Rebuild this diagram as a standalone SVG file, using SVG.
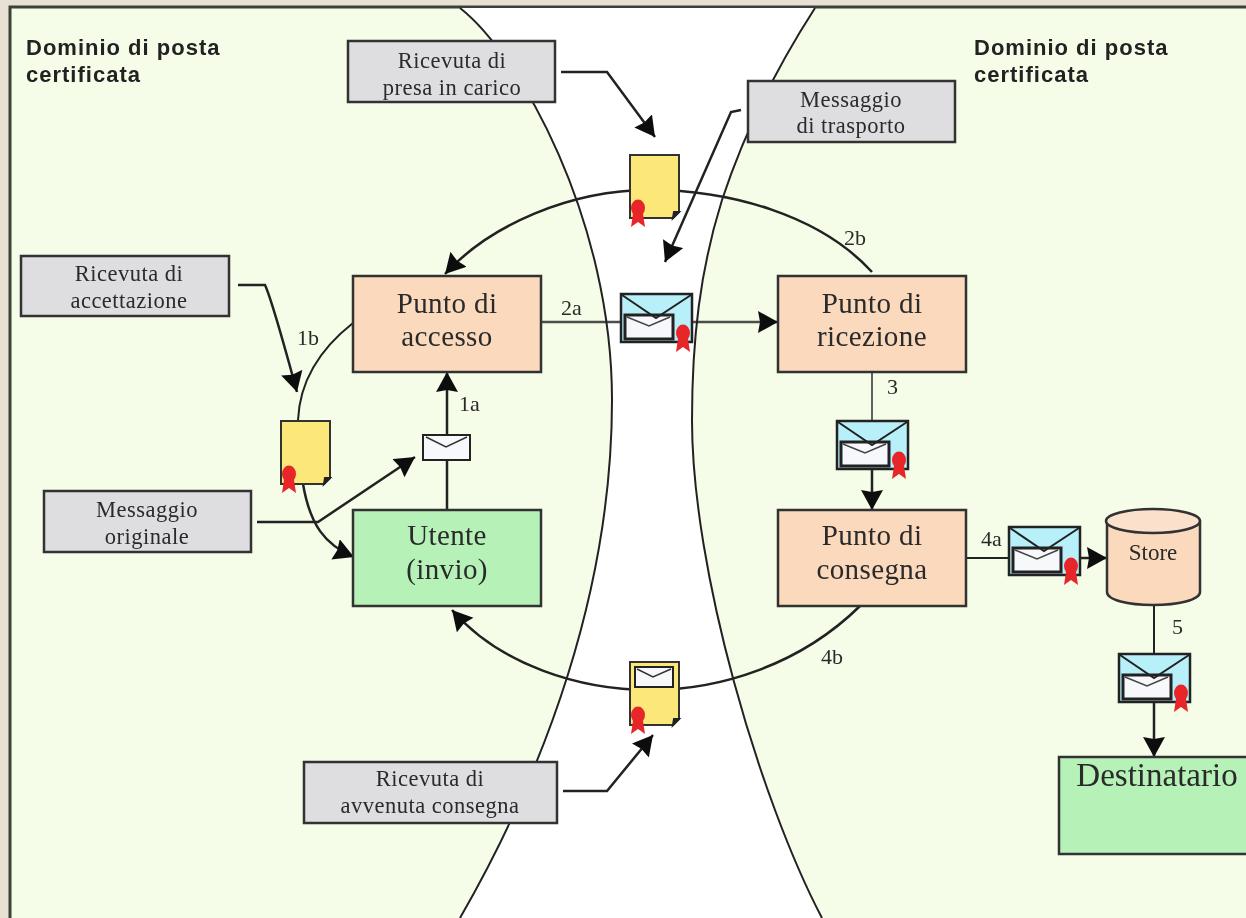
<svg xmlns="http://www.w3.org/2000/svg" xmlns:xlink="http://www.w3.org/1999/xlink" width="1246" height="918" viewBox="0 0 1246 918">
<style>
.serif{font-family:"Liberation Serif","Times New Roman",serif;fill:#2a2a2a}
.sans{font-family:"Liberation Sans",Arial,sans-serif;font-weight:bold;font-size:22px;letter-spacing:1px;fill:#222}
.big{font-size:29px;letter-spacing:.4px;text-anchor:middle}
.lab{font-size:22.500px;letter-spacing:.5px;text-anchor:middle}
.num{font-size:22px}
.gray{fill:#dedde0;stroke:#333;stroke-width:2.500}
.orange{fill:#fad9bd;stroke:#333;stroke-width:2.500}
.green{fill:#b6f2b8;stroke:#333;stroke-width:2.500}
.line{fill:none;stroke:#222;stroke-width:2}
.arr{fill:none;stroke:#222;stroke-width:2.500;marker-end:url(#ah)}
.edge{fill:none;stroke:#222;stroke-width:2}
</style>
<defs>
<filter id="soft" x="0" y="0" width="100%" height="100%"><feGaussianBlur stdDeviation="0.5"/></filter>
<marker id="ah" markerUnits="userSpaceOnUse" markerWidth="24" markerHeight="24" refX="20" refY="11" orient="auto"><path d="M0 0L20 11L0 22L2 11Z" fill="#111"/></marker>
<g id="seal"><path d="M-5 6L-7 19L0 14L7 19L5 6Z" fill="#e8282a"/><ellipse cx="0" cy="0" rx="7" ry="8.500" fill="#e8282a"/></g>
<g id="env"><rect x="1" y="1" width="71" height="48" fill="#b8f0fa" stroke="#222" stroke-width="2.500"/><rect x="5" y="22" width="48" height="24" fill="#f6f8fb" stroke="#222" stroke-width="3"/><path d="M7 24L29 33L50 24" fill="none" stroke="#444" stroke-width="1.500"/><path d="M2 2L36 25L71 2" fill="none" stroke="#222" stroke-width="2"/><use xlink:href="#seal" href="#seal" x="63" y="40"/></g>
<g id="doc"><path d="M1 1H50V58L44 64H1Z" fill="#fbe878" stroke="#333" stroke-width="2"/><path d="M44 64L45 58H50Z" fill="#222" stroke="#222" stroke-width="2"/><use xlink:href="#seal" href="#seal" x="9" y="54"/></g>
</defs>
<g filter="url(#soft)">
<rect width="1246" height="918" fill="#e8e0d2"/>
<rect x="10" y="7" width="1240" height="920" fill="#f5fde8" stroke="#3a4038" stroke-width="3"/>
<path d="M460 8C520 55 612 220 612 400C612 590 545 770 460 918H822C760 800 692 570 692 420C692 340 700 270 722 200C745 130 775 70 815 8Z" fill="#fff"/>
<g id="connectors">
<path class="line" d="M460 8C520 55 612 220 612 400C612 590 545 770 460 918"/>
<path class="line" d="M815 8C775 70 745 130 722 200C700 270 692 340 692 420C692 570 760 800 822 918"/>
<path class="arr" d="M561 72H607L655 137"/>
<path class="arr" d="M741 110L731 112L665 262"/>
<path class="arr" d="M238 285H265Q272 300 297 392"/>
<path class="arr" d="M257 522H318L415 457"/>
<path class="arr" d="M563 791H607L653 735"/>
<path class="arr" d="M872 272C820 215 730 190 650 190C570 190 490 225 445 274"/>
<path class="arr" d="M860 606C800 665 720 690 650 690C580 690 500 665 452 610"/>
<path class="edge" d="M353 323C325 345 300 375 298 420"/>
<path class="arr" d="M303 484C310 525 325 545 354 557"/>
<path class="arr" d="M447 510V372"/>
<path class="arr" stroke-opacity="0.800" d="M541 322H778"/>
<path class="edge" d="M872 372V420" stroke-opacity="0.700"/>
<path class="arr" d="M872 469V510"/>
<path class="edge" d="M966 558H1008"/>
<path class="arr" d="M1080 558H1107"/>
<path class="edge" d="M1154 605V653"/>
<path class="arr" d="M1154 701V757"/>
</g>
<g id="domain-left"><text class="sans" x="26" y="55">Dominio di posta</text><text class="sans" x="26" y="82">certificata</text></g>
<g id="domain-right"><text class="sans" x="974" y="55">Dominio di posta</text><text class="sans" x="974" y="82">certificata</text></g>
<g id="ricevuta-presa"><rect class="gray" x="348" y="41" width="207" height="61"/><text class="serif lab" x="452" y="68">Ricevuta di</text><text class="serif lab" x="452" y="95">presa in carico</text></g>
<g id="messaggio-trasporto"><rect class="gray" x="748" y="81" width="207" height="61"/><text class="serif lab" x="851" y="107">Messaggio</text><text class="serif lab" x="851" y="133">di trasporto</text></g>
<g id="ricevuta-accettazione"><rect class="gray" x="21" y="256" width="208" height="60"/><text class="serif lab" x="129" y="281">Ricevuta di</text><text class="serif lab" x="129" y="308">accettazione</text></g>
<g id="messaggio-originale"><rect class="gray" x="44" y="491" width="207" height="61"/><text class="serif lab" x="147" y="517">Messaggio</text><text class="serif lab" x="147" y="544">originale</text></g>
<g id="ricevuta-consegna"><rect class="gray" x="304" y="762" width="253" height="61"/><text class="serif lab" x="430" y="786">Ricevuta di</text><text class="serif lab" x="430" y="813">avvenuta consegna</text></g>
<g id="punto-accesso"><rect class="orange" x="353" y="276" width="188" height="96"/><text class="serif big" x="447" y="313">Punto di</text><text class="serif big" x="447" y="346">accesso</text></g>
<g id="punto-ricezione"><rect class="orange" x="778" y="276" width="188" height="96"/><text class="serif big" x="872" y="313">Punto di</text><text class="serif big" x="872" y="346">ricezione</text></g>
<g id="punto-consegna"><rect class="orange" x="778" y="510" width="188" height="96"/><text class="serif big" x="872" y="545">Punto di</text><text class="serif big" x="872" y="579">consegna</text></g>
<g id="utente"><rect class="green" x="353" y="510" width="188" height="96"/><text class="serif big" x="447" y="545">Utente</text><text class="serif big" x="447" y="579">(invio)</text></g>
<g id="destinatario"><rect class="green" x="1059" y="757" width="190" height="97"/><text class="serif" x="1157" y="786" font-size="33" text-anchor="middle">Destinatario</text></g>
<g id="store"><path d="M1107 522V592C1107 600 1128 605 1153 605C1178 605 1200 600 1200 592V522Z" fill="#fad9bd" stroke="#333" stroke-width="2.500"/><ellipse cx="1153" cy="521" rx="47" ry="12" fill="#fbe0cb" stroke="#333" stroke-width="2.500"/><text class="serif" x="1153" y="560" font-size="23" text-anchor="middle">Store</text></g>
<g id="doc-presa"><use xlink:href="#doc" href="#doc" x="629" y="154"/></g>
<g id="doc-accettazione"><use xlink:href="#doc" href="#doc" x="280" y="420"/></g>
<g id="doc-consegna"><use xlink:href="#doc" href="#doc" x="629" y="661"/><rect x="635" y="667" width="38" height="20" fill="#f6f8fb" stroke="#222" stroke-width="2"/><path d="M637 669L653 677L671 669" fill="none" stroke="#333" stroke-width="1.500"/></g>
<g id="env-small"><rect x="423" y="435" width="47" height="25" fill="#f6f8fb" stroke="#222" stroke-width="2"/><path d="M426 437L446 447L467 437" fill="none" stroke="#333" stroke-width="1.500"/></g>
<g id="env-2a"><use xlink:href="#env" href="#env" x="620" y="293"/></g>
<g id="env-3"><use xlink:href="#env" href="#env" x="836" y="420"/></g>
<g id="env-4a"><use xlink:href="#env" href="#env" x="1008" y="526"/></g>
<g id="env-5"><use xlink:href="#env" href="#env" x="1118" y="653"/></g>
<g id="labels">
<text class="serif num" x="459" y="411">1a</text>
<text class="serif num" x="297" y="345">1b</text>
<text class="serif num" x="561" y="315">2a</text>
<text class="serif num" x="844" y="245">2b</text>
<text class="serif num" x="887" y="394">3</text>
<text class="serif num" x="981" y="546">4a</text>
<text class="serif num" x="821" y="664">4b</text>
<text class="serif num" x="1172" y="634">5</text>
</g>
</g>
</svg>
